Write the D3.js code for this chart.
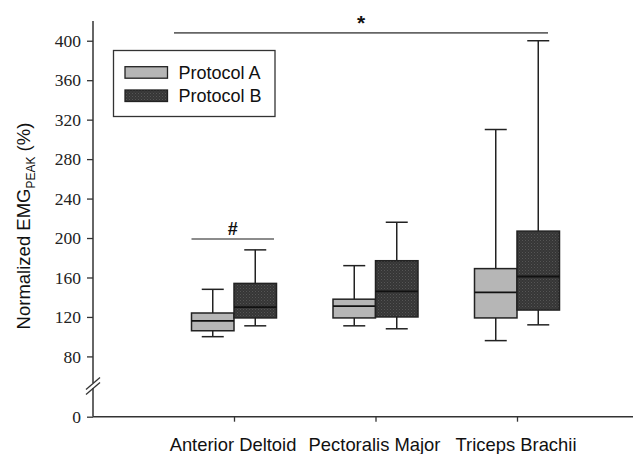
<!DOCTYPE html>
<html><head><meta charset="utf-8">
<script src="https://cdn.jsdelivr.net/npm/d3@7"></script>
<style>body{margin:0;background:#fff}svg{display:block}</style>
</head><body><svg id="c" width="633" height="454"></svg>
<script>
const categories = ["Anterior Deltoid", "Pectoralis Major", "Triceps Brachii"];
const series = ["Protocol A", "Protocol B"];
// [whiskerLow, q1, median, q3, whiskerHigh]
const protocolA = [[100, 106, 116, 124, 148], [111, 119, 131, 138, 172], [96, 119, 145, 169, 310]];
const protocolB = [[111, 119, 130, 154, 188], [108, 120, 146, 177, 216], [112, 127, 161, 207, 400]];
const yTicks = [0, 80, 120, 160, 200, 240, 280, 320, 360, 400];
const sigAll = {label: "*", from: 0, to: 2, value: 408};
const sigAD = {label: "#", from: 0, to: 0, value: 199};

const svg = d3.select("#c");
const y = d3.scaleLinear().domain([0, 50, 420]).range([416.7, 386, 21]);
const x = d3.scalePoint().domain(categories).range([234, 517]);
const bw = 42.5, capW = 22;

const defs = svg.append("defs");
const pat = defs.append("pattern").attr("id","stip").attr("patternUnits","userSpaceOnUse").attr("width",3).attr("height",3);
pat.append("rect").attr("width",3).attr("height",3).attr("fill","#363636");
pat.append("rect").attr("x",0).attr("y",0).attr("width",1).attr("height",1).attr("fill","#555");
pat.append("rect").attr("x",1.5).attr("y",1.5).attr("width",1).attr("height",1).attr("fill","#484848");

const fills = ["#b6b6b6", "url(#stip)"];
const axisColor = "#333";
const sans = "'Liberation Sans',Arial,sans-serif";

// Y axis
const yAxis = d3.axisLeft(y).tickValues(yTicks).tickSize(6).tickSizeOuter(0);
const gy = svg.append("g").attr("transform","translate(93,0)").call(yAxis);
gy.select(".domain").remove();
gy.selectAll(".tick line").attr("stroke",axisColor).attr("stroke-width",1.3);
gy.selectAll(".tick text").attr("font-family","'Liberation Serif','Times New Roman',serif").attr("font-size",17.5).attr("fill","#222").attr("x",-12);
svg.append("line").attr("x1",93).attr("x2",93).attr("y1",21).attr("y2",y(0)).attr("stroke",axisColor).attr("stroke-width",1.5);
// break marks
const by = 386;
svg.append("rect").attr("x",89).attr("y",by-3).attr("width",8).attr("height",5).attr("fill","#fff");
[-2.5, 2.5].forEach(o => {
  svg.append("line").attr("x1",86).attr("x2",100).attr("y1",by+o+6).attr("y2",by+o-6).attr("stroke",axisColor).attr("stroke-width",1.3);
});

// X axis
svg.append("line").attr("x1",93).attr("x2",633).attr("y1",y(0)).attr("y2",y(0)).attr("stroke",axisColor).attr("stroke-width",1.5);
const gx = svg.append("g").attr("transform",`translate(0,${y(0)})`).call(d3.axisBottom(x).tickSize(5).tickSizeOuter(0));
gx.select(".domain").remove();
gx.selectAll(".tick line").attr("stroke",axisColor).attr("stroke-width",1.3);
gx.selectAll(".tick text").attr("font-family",sans).attr("font-size",18.4).attr("fill","#111").attr("dy",0).attr("y",34.5).attr("dx",-1.5);

// Y title
svg.append("text").attr("transform","translate(30,226) rotate(-90)").attr("text-anchor","middle")
  .attr("font-family",sans).attr("font-size",18.5).attr("fill","#111")
  .call(t => { t.append("tspan").text("Normalized EMG");
    t.append("tspan").text("PEAK").attr("font-size",12).attr("dy",5);
    t.append("tspan").text(" (%)").attr("dy",-5); });

// boxes
[protocolA, protocolB].forEach((data, si) => {
  data.forEach((d, ci) => {
    const x0 = x(categories[ci]) + (si === 0 ? -bw : 0);
    const cx = x0 + bw/2;
    const g = svg.append("g").attr("stroke","#222").attr("stroke-width",1.5);
    g.append("line").attr("x1",cx).attr("x2",cx).attr("y1",y(d[4])).attr("y2",y(d[3]));
    g.append("line").attr("x1",cx).attr("x2",cx).attr("y1",y(d[1])).attr("y2",y(d[0]));
    g.append("line").attr("x1",cx-capW/2).attr("x2",cx+capW/2).attr("y1",y(d[4])).attr("y2",y(d[4]));
    g.append("line").attr("x1",cx-capW/2).attr("x2",cx+capW/2).attr("y1",y(d[0])).attr("y2",y(d[0]));
    g.append("rect").attr("x",x0).attr("y",y(d[3])).attr("width",bw).attr("height",y(d[1])-y(d[3])).attr("fill",fills[si]);
    g.append("line").attr("x1",x0).attr("x2",x0+bw).attr("y1",y(d[2])).attr("y2",y(d[2])).attr("stroke","#111").attr("stroke-width",1.8);
  });
});

// significance
function sig(s, x1, x2, ty, fs) {
  svg.append("line").attr("x1",x1).attr("x2",x2).attr("y1",y(s.value)).attr("y2",y(s.value)).attr("stroke","#666").attr("stroke-width",1.6);
  svg.append("text").attr("x",(x1+x2)/2).attr("y",ty).attr("text-anchor","middle").attr("font-family",sans)
    .attr("font-weight","bold").attr("font-size",fs).attr("fill","#111").text(s.label);
}
sig(sigAll, x(categories[sigAll.from]) - 60, x(categories[sigAll.to]) + 31, 30, 21);
sig(sigAD, x(categories[0]) - bw, x(categories[0]) + 40, 235, 18);

// legend
const lg = svg.append("g");
lg.append("rect").attr("x",113.5).attr("y",50.5).attr("width",161.5).attr("height",66).attr("fill","#fff").attr("stroke","#333").attr("stroke-width",1.3);
series.forEach((s, i) => {
  const yy = 66.7 + i*23.3;
  lg.append("rect").attr("x",125).attr("y",yy).attr("width",42.5).attr("height",11.5).attr("fill",fills[i]).attr("stroke","#222").attr("stroke-width",1.3);
  lg.append("text").attr("x",178.5).attr("y",yy+12).attr("font-family",sans).attr("font-size",18).attr("fill","#111").text(s);
});
</script></body></html>
